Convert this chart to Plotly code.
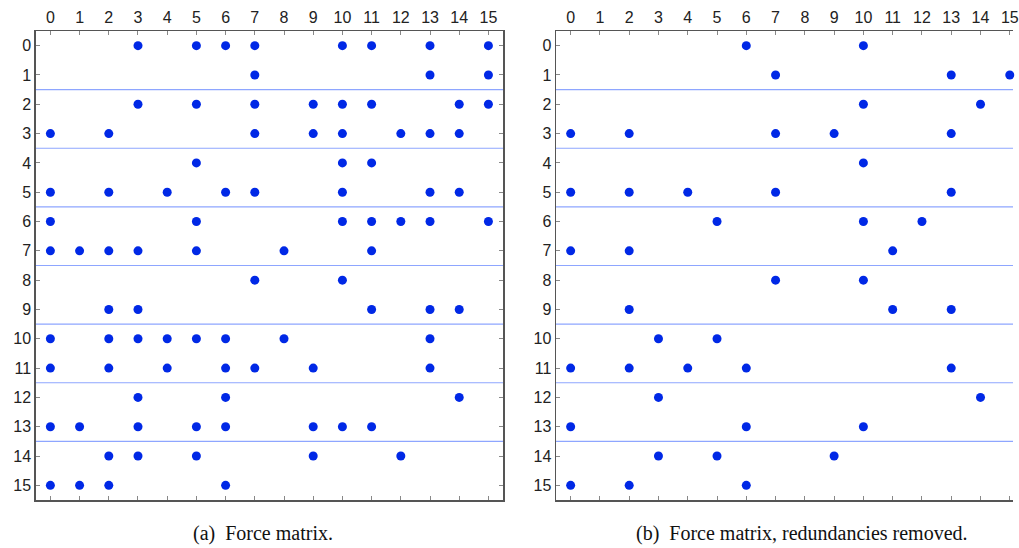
import plotly.graph_objects as go

# ---- data ----
labels = list(range(16))
rows_a = {
    0: [3, 5, 6, 7, 10, 11, 13, 15],
    1: [7, 13, 15],
    2: [3, 5, 7, 9, 10, 11, 14, 15],
    3: [0, 2, 7, 9, 10, 12, 13, 14],
    4: [5, 10, 11],
    5: [0, 2, 4, 6, 7, 10, 13, 14],
    6: [0, 5, 10, 11, 12, 13, 15],
    7: [0, 1, 2, 3, 5, 8, 11],
    8: [7, 10],
    9: [2, 3, 11, 13, 14],
    10: [0, 2, 3, 4, 5, 6, 8, 13],
    11: [0, 2, 4, 6, 7, 9, 13],
    12: [3, 6, 14],
    13: [0, 1, 3, 5, 6, 9, 10, 11],
    14: [2, 3, 5, 9, 12],
    15: [0, 1, 2, 6],
}
rows_b = {
    0: [6, 10],
    1: [7, 13, 15],
    2: [10, 14],
    3: [0, 2, 7, 9, 13],
    4: [10],
    5: [0, 2, 4, 7, 13],
    6: [5, 10, 12],
    7: [0, 2, 11],
    8: [7, 10],
    9: [2, 11, 13],
    10: [3, 5],
    11: [0, 2, 4, 6, 13],
    12: [3, 14],
    13: [0, 6, 10],
    14: [3, 5, 9],
    15: [0, 2, 6],
}
separators = [1.5, 3.5, 5.5, 7.5, 9.5, 11.5, 13.5]
captions = ["(a)  Force matrix.", "(b)  Force matrix, redundancies removed."]

W, H = 1019, 548
DOT = "#0028e6"
SEP = "#8ea6ff"
AX = "#555555"


def flatten(rows):
    xs, ys = [], []
    for r, cols in rows.items():
        for c in cols:
            xs.append(c)
            ys.append(r)
    return xs, ys


def px(v):
    return v / W


def py(v):
    return 1 - v / H


fig = go.Figure()
for i, rows in enumerate([rows_a, rows_b]):
    xs, ys = flatten(rows)
    suffix = "" if i == 0 else "2"
    fig.add_trace(go.Scatter(
        x=xs, y=ys, mode="markers",
        marker=dict(color=DOT, size=9, line=dict(width=0)),
        xaxis="x" + suffix, yaxis="y" + suffix,
        showlegend=False, cliponaxis=False, hoverinfo="skip",
    ))

xa_dom = [px(36), px(506)]
xb_dom = [px(559.3), 1.0]
y_dom = [py(500), py(31)]

axis_common = dict(
    tickmode="array", tickvals=labels, ticktext=[str(v) for v in labels],
    ticks="inside", ticklen=4, tickwidth=1, tickcolor="#888888",
    showline=True, linecolor=AX, linewidth=1.5,
    showgrid=False, zeroline=False, ticklabeloverflow="allow",
    tickfont=dict(family="Liberation Sans, Arial, sans-serif", size=16, color="#222222"),
)

fig.update_layout(
    width=W, height=H,
    margin=dict(l=0, r=0, t=0, b=0),
    paper_bgcolor="white", plot_bgcolor="white",
    xaxis=dict(domain=xa_dom, range=[-0.5, 15.5], side="top", mirror="ticks",
               anchor="y", **axis_common),
    yaxis=dict(domain=y_dom, range=[15.5, -0.5], mirror="ticks", anchor="x",
               **axis_common),
    xaxis2=dict(domain=xb_dom, range=[-0.5, 15.11], side="top", mirror="ticks",
                anchor="y2", **axis_common),
    yaxis2=dict(domain=y_dom, range=[15.5, -0.5], mirror=False, anchor="x2",
                **axis_common),
)

shapes = []
for xref, yref in [("x domain", "y"), ("x2 domain", "y2")]:
    for s in separators:
        shapes.append(dict(type="line", xref=xref, yref=yref, x0=0, x1=1, y0=s, y1=s,
                           line=dict(color=SEP, width=1.2), layer="below"))
fig.update_layout(shapes=shapes)

cap_x = [px(265), px(807)]
for cx, txt in zip(cap_x, captions):
    fig.add_annotation(x=cx, y=py(533), xref="paper", yref="paper",
                       text=txt, showarrow=False, xanchor="center", yanchor="middle",
                       borderpad=0,
                       font=dict(family="Liberation Serif, DejaVu Serif, serif", size=20,
                                 color="#111111"))

fig.write_html(
    "out.html",
    config={"displayModeBar": False, "staticPlot": True},
    post_script="document.body.style.margin='0';document.body.style.overflow='hidden';",
)
